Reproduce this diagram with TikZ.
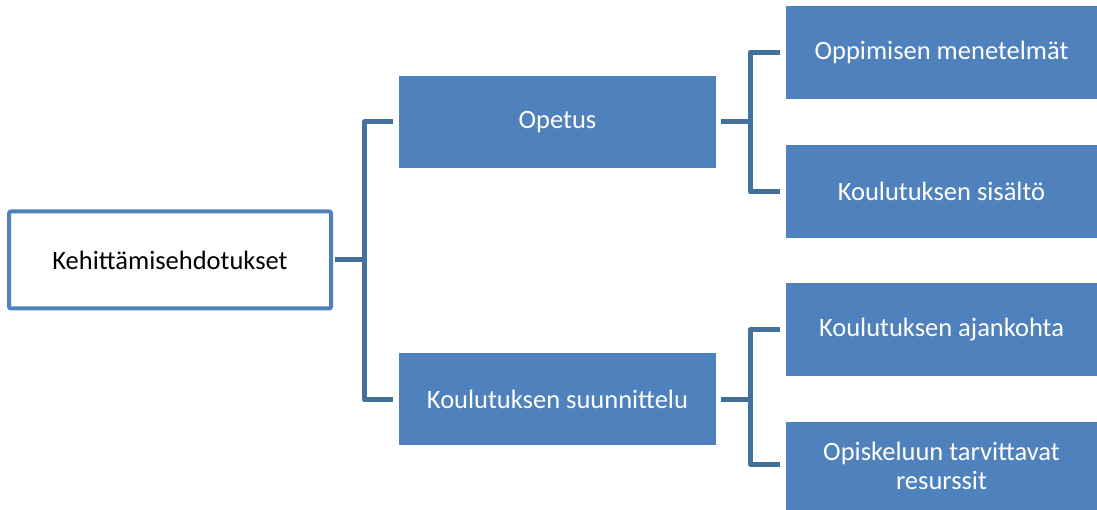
\documentclass[tikz,border=0pt]{standalone}
\usepackage{fontspec}
\setmainfont{Carlito}
\definecolor{boxblue}{HTML}{4F81BD}
\definecolor{linkblue}{HTML}{41719C}
\begin{document}
\begin{tikzpicture}[x=1pt,y=-1pt,
  bluebox/.style={fill=boxblue,draw=none,text=white,minimum width=#1,inner sep=0pt,align=center,font=\fontsize{26.5}{29}\selectfont},
  rootbox/.style={draw=boxblue,line width=4pt,rounded corners=2pt,fill=white,inner sep=0pt,font=\fontsize{26.5}{29}\selectfont},
  link/.style={draw=linkblue,line width=5pt,line join=round}]
\useasboundingbox (0,0) rectangle (1097,510);
\node[rootbox,minimum width=322pt,minimum height=97pt] (root) at (170,260) {Kehittämisehdotukset};
\node[bluebox=317pt,minimum height=92pt] (opetus) at (557.5,122) {Opetus};
\node[bluebox=317pt,minimum height=92pt] (suun) at (557.5,399) {Koulutuksen suunnittelu};
\node[bluebox=311pt,minimum height=93pt] (opp) at (941.5,52.5) {Oppimisen\ menetelmät};
\node[bluebox=311pt,minimum height=93pt] (sis) at (941.5,191.5) {Koulutuksen\ sisältö};
\node[bluebox=311pt,minimum height=93pt] (aja) at (941.5,329.5) {Koulutuksen\ ajankohta};
\node[bluebox=311pt,minimum height=88pt] (res) at (941.5,466) {Opiskeluun tarvittavat\\resurssit};
\coordinate (b1) at (364,260);
\coordinate (b2) at (750,122);
\coordinate (b3) at (750,399);
\draw[link] ([xshift=2pt]root.east) -- (b1);
\draw[link] (opetus.west -| b1) ++(29,0) -- (opetus.west -| b1) -- (suun.west -| b1) -- ++(29,0);
\draw[link] ([xshift=5pt]opetus.east) -- (b2);
\draw[link] (opp.west -| b2) ++(30,0) -- (opp.west -| b2) -- (sis.west -| b2) -- ++(30,0);
\draw[link] ([xshift=5pt]suun.east) -- (b3);
\draw[link] (aja.west -| b3) ++(30,0) -- (aja.west -| b3) -- ([yshift=2pt]res.west -| b3) -- ++(30,0);
\end{tikzpicture}
\end{document}
